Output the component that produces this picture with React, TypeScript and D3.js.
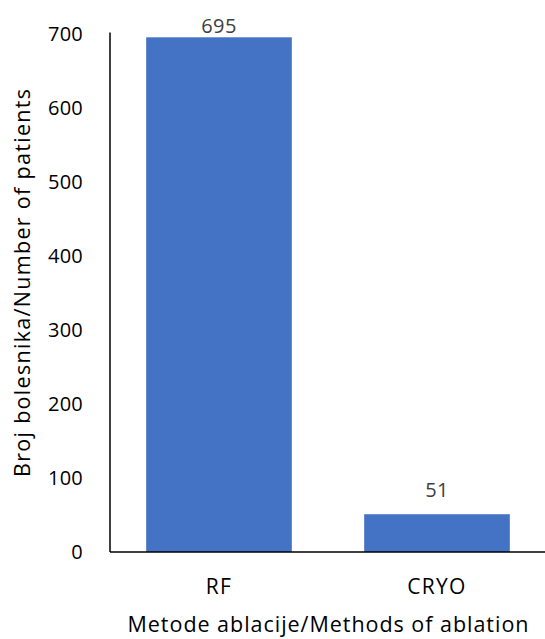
import React from "react";
import * as d3 from "d3";

const categories = ["RF", "CRYO"];
const values = [695, 51];
const yTicks = [0, 100, 200, 300, 400, 500, 600, 700];
const xTitle = "Metode ablacije/Methods of ablation";
const yTitle = "Broj bolesnika/Number of patients";

const W = 545;
const H = 639;
const left = 110;
const right = 546;
const top = 33.6;
const bottom = 552;
const FONT = "'Open Sans', sans-serif";

export default function App() {
  const x = d3.scaleBand<string>().domain(categories).range([left, right]).paddingInner(0.332).paddingOuter(0.166);
  const y = d3.scaleLinear().domain([0, 700]).range([bottom, top]);
  return (
    <svg width={W} height={H} style={{ position: "absolute", left: 0, top: 0, background: "#fff" }}>
      {categories.map((c, i) => (
        <rect key={c} x={x(c)!} y={y(values[i])} width={x.bandwidth()} height={y(0) - y(values[i])} fill="#4472C4" />
      ))}
      {categories.map((c, i) => (
        <text key={"l" + c} x={x(c)! + x.bandwidth() / 2} y={Math.max(y(values[i]) - 17, 33)} textAnchor="middle"
          fontFamily={FONT} fontSize={20} letterSpacing={0.4} fill="#404040">{values[i]}</text>
      ))}
      <line x1={left} x2={left} y1={top - 1} y2={bottom} stroke="#000" strokeWidth={1.5} />
      <line x1={left} x2={W} y1={bottom} y2={bottom} stroke="#000" strokeWidth={1.5} />
      {yTicks.map((t) => (
        <text key={t} x={83} y={y(t) + 7.4} textAnchor="end" fontFamily={FONT} fontSize={20} letterSpacing={0.2} fill="#000">{t}</text>
      ))}
      {categories.map((c) => (
        <text key={"c" + c} x={x(c)! + x.bandwidth() / 2} y={594} textAnchor="middle" fontFamily={FONT} fontSize={21} letterSpacing={1.3} fill="#000">{c}</text>
      ))}
      <text x={(left + right) / 2} y={632} textAnchor="middle" fontFamily={FONT} fontSize={21.5}
        textLength={401} lengthAdjust="spacing" fill="#000">{xTitle}</text>
      <text transform={`translate(30,283) rotate(-90)`} textAnchor="middle" fontFamily={FONT} fontSize={21.5}
        textLength={388} lengthAdjust="spacing" fill="#000">{yTitle}</text>
    </svg>
  );
}
